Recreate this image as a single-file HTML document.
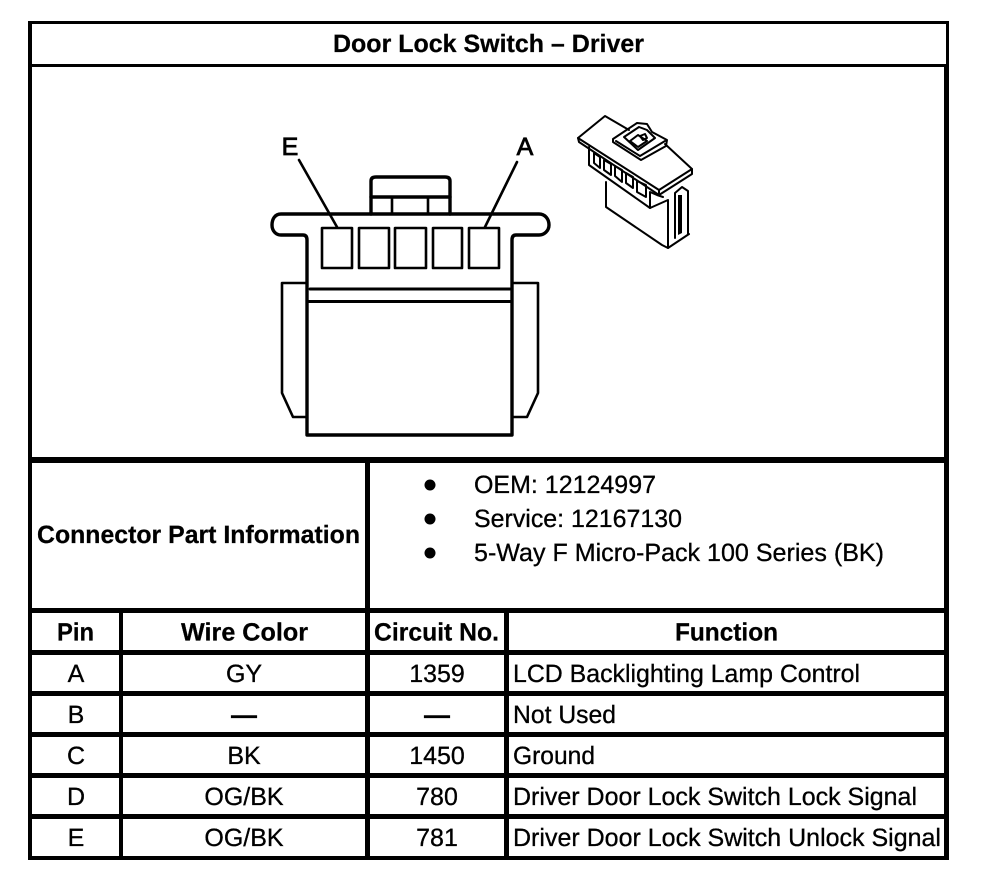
<!DOCTYPE html>
<html><head><meta charset="utf-8">
<style>
html,body{margin:0;padding:0;background:#fff;width:992px;height:894px;overflow:hidden}
svg{display:block}
text{font-family:"Liberation Sans",Arial,sans-serif;font-size:25px;fill:#000;stroke:#000;stroke-width:.3;text-rendering:geometricPrecision}
.b{font-weight:bold;stroke-width:.25}
.m{text-anchor:middle}
.h{stroke-width:.8}
.d{fill:none;stroke:#000;stroke-width:2.6;stroke-linejoin:round;stroke-linecap:round}
.t{fill:none;stroke:#000;stroke-width:3.4;stroke-linejoin:round;stroke-linecap:round}
.i{fill:none;stroke:#000;stroke-width:2;stroke-linejoin:round;stroke-linecap:round}
</style></head><body>
<svg width="992" height="894" viewBox="0 0 992 894" xmlns="http://www.w3.org/2000/svg">
<rect width="992" height="894" fill="#fff"/>
<g fill="#000" shape-rendering="crispEdges">
<rect x="28" y="21" width="921" height="3"/>
<rect x="28" y="64" width="921" height="3"/>
<rect x="28" y="21" width="4" height="839"/>
<rect x="946" y="21" width="3" height="46"/>
<rect x="944" y="64" width="5" height="796"/>
<rect x="28" y="457" width="921" height="6"/>
<rect x="28" y="608" width="921" height="5"/>
<rect x="28" y="650" width="921" height="5"/>
<rect x="28" y="691" width="921" height="5"/>
<rect x="28" y="732" width="921" height="5"/>
<rect x="28" y="773" width="921" height="5"/>
<rect x="28" y="814" width="921" height="5"/>
<rect x="28" y="856" width="921" height="4"/>
<rect x="365" y="460" width="5" height="400"/>
<rect x="119" y="608" width="4" height="252"/>
<rect x="504" y="608" width="5" height="252"/>
</g>

<text class="b" x="333" y="52" textLength="311" lengthAdjust="spacingAndGlyphs">Door Lock Switch – Driver</text>
<text class="b" x="37" y="543" textLength="323" lengthAdjust="spacingAndGlyphs">Connector Part Information</text>

<circle cx="430" cy="485" r="5.5"/><circle cx="430" cy="519" r="5.5"/><circle cx="430" cy="553" r="5.5"/>
<text x="474" y="493" textLength="182" lengthAdjust="spacingAndGlyphs">OEM: 12124997</text>
<text x="474" y="527" textLength="208" lengthAdjust="spacingAndGlyphs">Service: 12167130</text>
<text x="474" y="561" textLength="410" lengthAdjust="spacingAndGlyphs">5-Way F Micro-Pack 100 Series (BK)</text>

<text class="b" x="57" y="640.5" textLength="37" lengthAdjust="spacingAndGlyphs">Pin</text>
<text class="b" x="181" y="640.5" textLength="127" lengthAdjust="spacingAndGlyphs">Wire Color</text>
<text class="b" x="374" y="640.5" textLength="125" lengthAdjust="spacingAndGlyphs">Circuit No.</text>
<text class="b" x="675" y="640.5" textLength="103" lengthAdjust="spacingAndGlyphs">Function</text>

<text class="m" x="76" y="682">A</text><text class="m" x="244" y="682">GY</text><text class="m" x="437" y="682">1359</text>
<text x="513" y="682" textLength="347" lengthAdjust="spacingAndGlyphs">LCD Backlighting Lamp Control</text>
<text class="m" x="76" y="723">B</text><text class="m" x="244" y="723" style="stroke-width:1.2">—</text><text class="m" x="437" y="723" style="stroke-width:1.2">—</text>
<text x="513" y="723" textLength="103" lengthAdjust="spacingAndGlyphs">Not Used</text>
<text class="m" x="76" y="764">C</text><text class="m" x="244" y="764">BK</text><text class="m" x="437" y="764">1450</text>
<text x="513" y="764" textLength="82" lengthAdjust="spacingAndGlyphs">Ground</text>
<text class="m" x="76" y="805">D</text><text class="m" x="244" y="805">OG/BK</text><text class="m" x="437" y="805">780</text>
<text x="513" y="805" textLength="404" lengthAdjust="spacingAndGlyphs">Driver Door Lock Switch Lock Signal</text>
<text class="m" x="76" y="846">E</text><text class="m" x="244" y="846">OG/BK</text><text class="m" x="437" y="846">781</text>
<text x="513" y="846" textLength="428" lengthAdjust="spacingAndGlyphs">Driver Door Lock Switch Unlock Signal</text>

<!-- front view connector -->
<text class="m h" x="290" y="155">E</text>
<text class="m h" x="525" y="155">A</text>
<path class="d" d="M299 160L337 227M517 162L485 227"/>
<path class="t" d="M371 214H281C275 214 272 219 272 225C272 231 276 235 281 235H303C306 235 307 237 307 240V435H512V240C512 237 513 235 516 235H539C544 235 549 231 549 225C549 219 545 214 539 214H450"/>
<path class="t" d="M371 214V181C371 178 373 177 376 177H445C448 177 450 178 450 181V214H371"/>
<path class="t" d="M371 197H450"/>
<path class="d" d="M392 197V214M428 197V214"/>
<rect class="d" x="322" y="228" width="30" height="40"/>
<rect class="d" x="359" y="228" width="30" height="40"/>
<rect class="d" x="395" y="228" width="31" height="40"/>
<rect class="d" x="433" y="228" width="29" height="40"/>
<rect class="d" x="469" y="228" width="30" height="40"/>
<path class="d" style="stroke-width:3" d="M310 289H510M307 301.5H512"/>
<path class="d" d="M307 283H282V393L293 417H307M512 283H538V393L527 417H512"/>

<!-- isometric connector -->
<!-- plate -->
<path class="i" d="M629 130L605 116L578 138L659 190L692 169L665 144"/>
<path class="i" d="M578 138L579 142L659 195L692 174L692 169M659 190V195"/>
<!-- clip -->
<path class="i" d="M613 139L637 123L647 124L652 132L667 140L666 146L641 160L613 142Z"/>
<path class="i" d="M616 141L640 156L665 141"/>
<path class="i" d="M624 137L639 127L647 130L655 138L638 150Z"/>
<path class="i" d="M630 141L638 135L647 141L638 147Z"/>
<path class="i" d="M640 136L645 134L647 138L643 140Z"/>
<!-- front wall and pins -->
<path class="i" d="M589 147V165L650 208V192L657 195L663 197"/>
<path class="i" d="M594 153L600 157V168L594 163ZM604 160L611 164V175L604 170ZM615 166L622 170V182L615 176ZM626 173L633 177V188L626 183ZM637 181L646 185V197L637 192Z"/>
<!-- lower body -->
<path class="i" d="M606 182V207L662 245L668 248L689 234"/>
<path class="i" d="M650 208L668 200V248"/>
<path class="i" d="M675 193L682 187L688 191V234M675 193V238"/>
<path d="M678 195H682V233L678 235Z" fill="#000"/>
</svg>
</body></html>
